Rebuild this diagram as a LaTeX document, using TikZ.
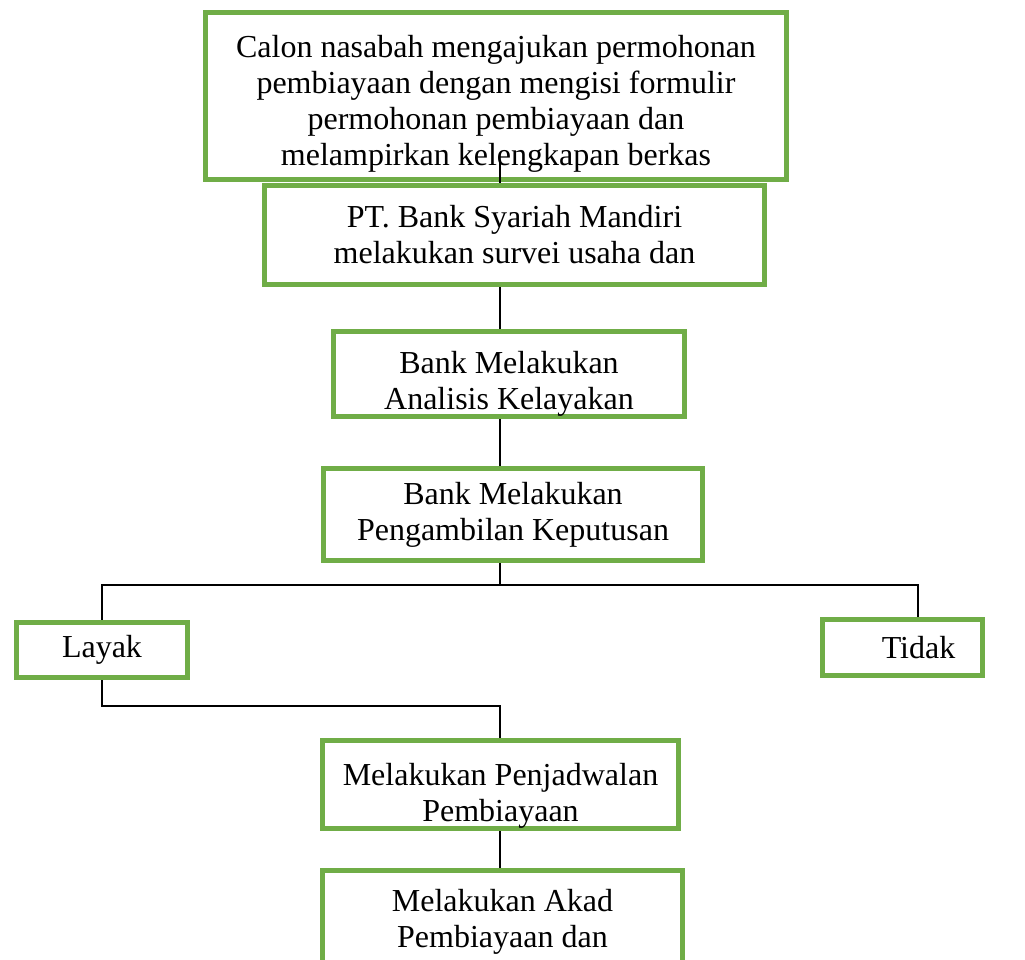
\documentclass[tikz,border=0pt]{standalone}
\usepackage{fontspec}
\setmainfont{Liberation Serif}
\usetikzlibrary{calc}
\definecolor{boxgreen}{RGB}{112,173,71}
\tikzset{
	flowbox/.style={draw=boxgreen,line width=3.8pt,rectangle,align=center,inner sep=0pt,
		font=\fontsize{24}{27}\selectfont},
	link/.style={draw=black,line width=1.2pt}
}
\begin{document}
\begin{tikzpicture}[x=0.75pt,y=-0.75pt]
				\useasboundingbox (0,0) rectangle (1025,960);
				\clip (0,0) rectangle (1025,960);
				\node[name=ajuan,flowbox,minimum width=435.75pt,minimum height=125.25pt] at (496,96){\rule{0pt}{29pt}Calon nasabah mengajukan permohonan\\pembiayaan dengan mengisi formulir\\permohonan pembiayaan dan\\melampirkan kelengkapan berkas};
				\node[name=survei,flowbox,minimum width=375pt,minimum height=74.25pt] at (514.5,235){PT. Bank Syariah Mandiri\\melakukan survei usaha dan};
				\node[name=analisis,flowbox,minimum width=263.25pt,minimum height=62.25pt] at (509,374){\rule{0pt}{32pt}Bank Melakukan\\Analisis Kelayakan};
				\node[name=putusan,flowbox,minimum width=284.25pt,minimum height=69pt] at (513,514.5){Bank Melakukan\\Pengambilan Keputusan};
				\node[name=layak,flowbox,minimum width=128.25pt,minimum height=41.25pt] at (102,650){Layak};
				\node[name=tidak,flowbox,minimum width=120pt,minimum height=42pt] at (902.5,647.5){\hspace*{24pt}Tidak};
				\node[name=jadwal,flowbox,minimum width=267pt,minimum height=63pt] at (500.5,784.5){\rule{0pt}{34pt}Melakukan Penjadwalan\\Pembiayaan};
				\node[name=akad,flowbox,minimum width=270pt,minimum height=76.5pt] at (502.5,921.5){Melakukan Akad\\Pembiayaan dan};
				% titik bantu garis
				\coordinate (spine) at (500,0);
				\coordinate (cabang) at (500,585);
				\coordinate (tidakatas) at (918,585);
				\coordinate (gabung) at (500,706);
				\draw[link] ($(spine |- ajuan.south)+(0,-20)$) -- (spine |- survei.north);
				\draw[link] (spine |- survei.south) -- (spine |- analisis.north);
				\draw[link] (spine |- analisis.south) -- (spine |- putusan.north);
				\draw[link] (spine |- putusan.south) -- (cabang);
				\draw[link] (layak.north) |- (tidakatas) -- (tidakatas |- tidak.north);
				\draw[link] (layak.south) |- (gabung) -- (spine |- jadwal.north);
				\draw[link] (spine |- jadwal.south) -- (spine |- akad.north);
			\end{tikzpicture}
\end{document}
